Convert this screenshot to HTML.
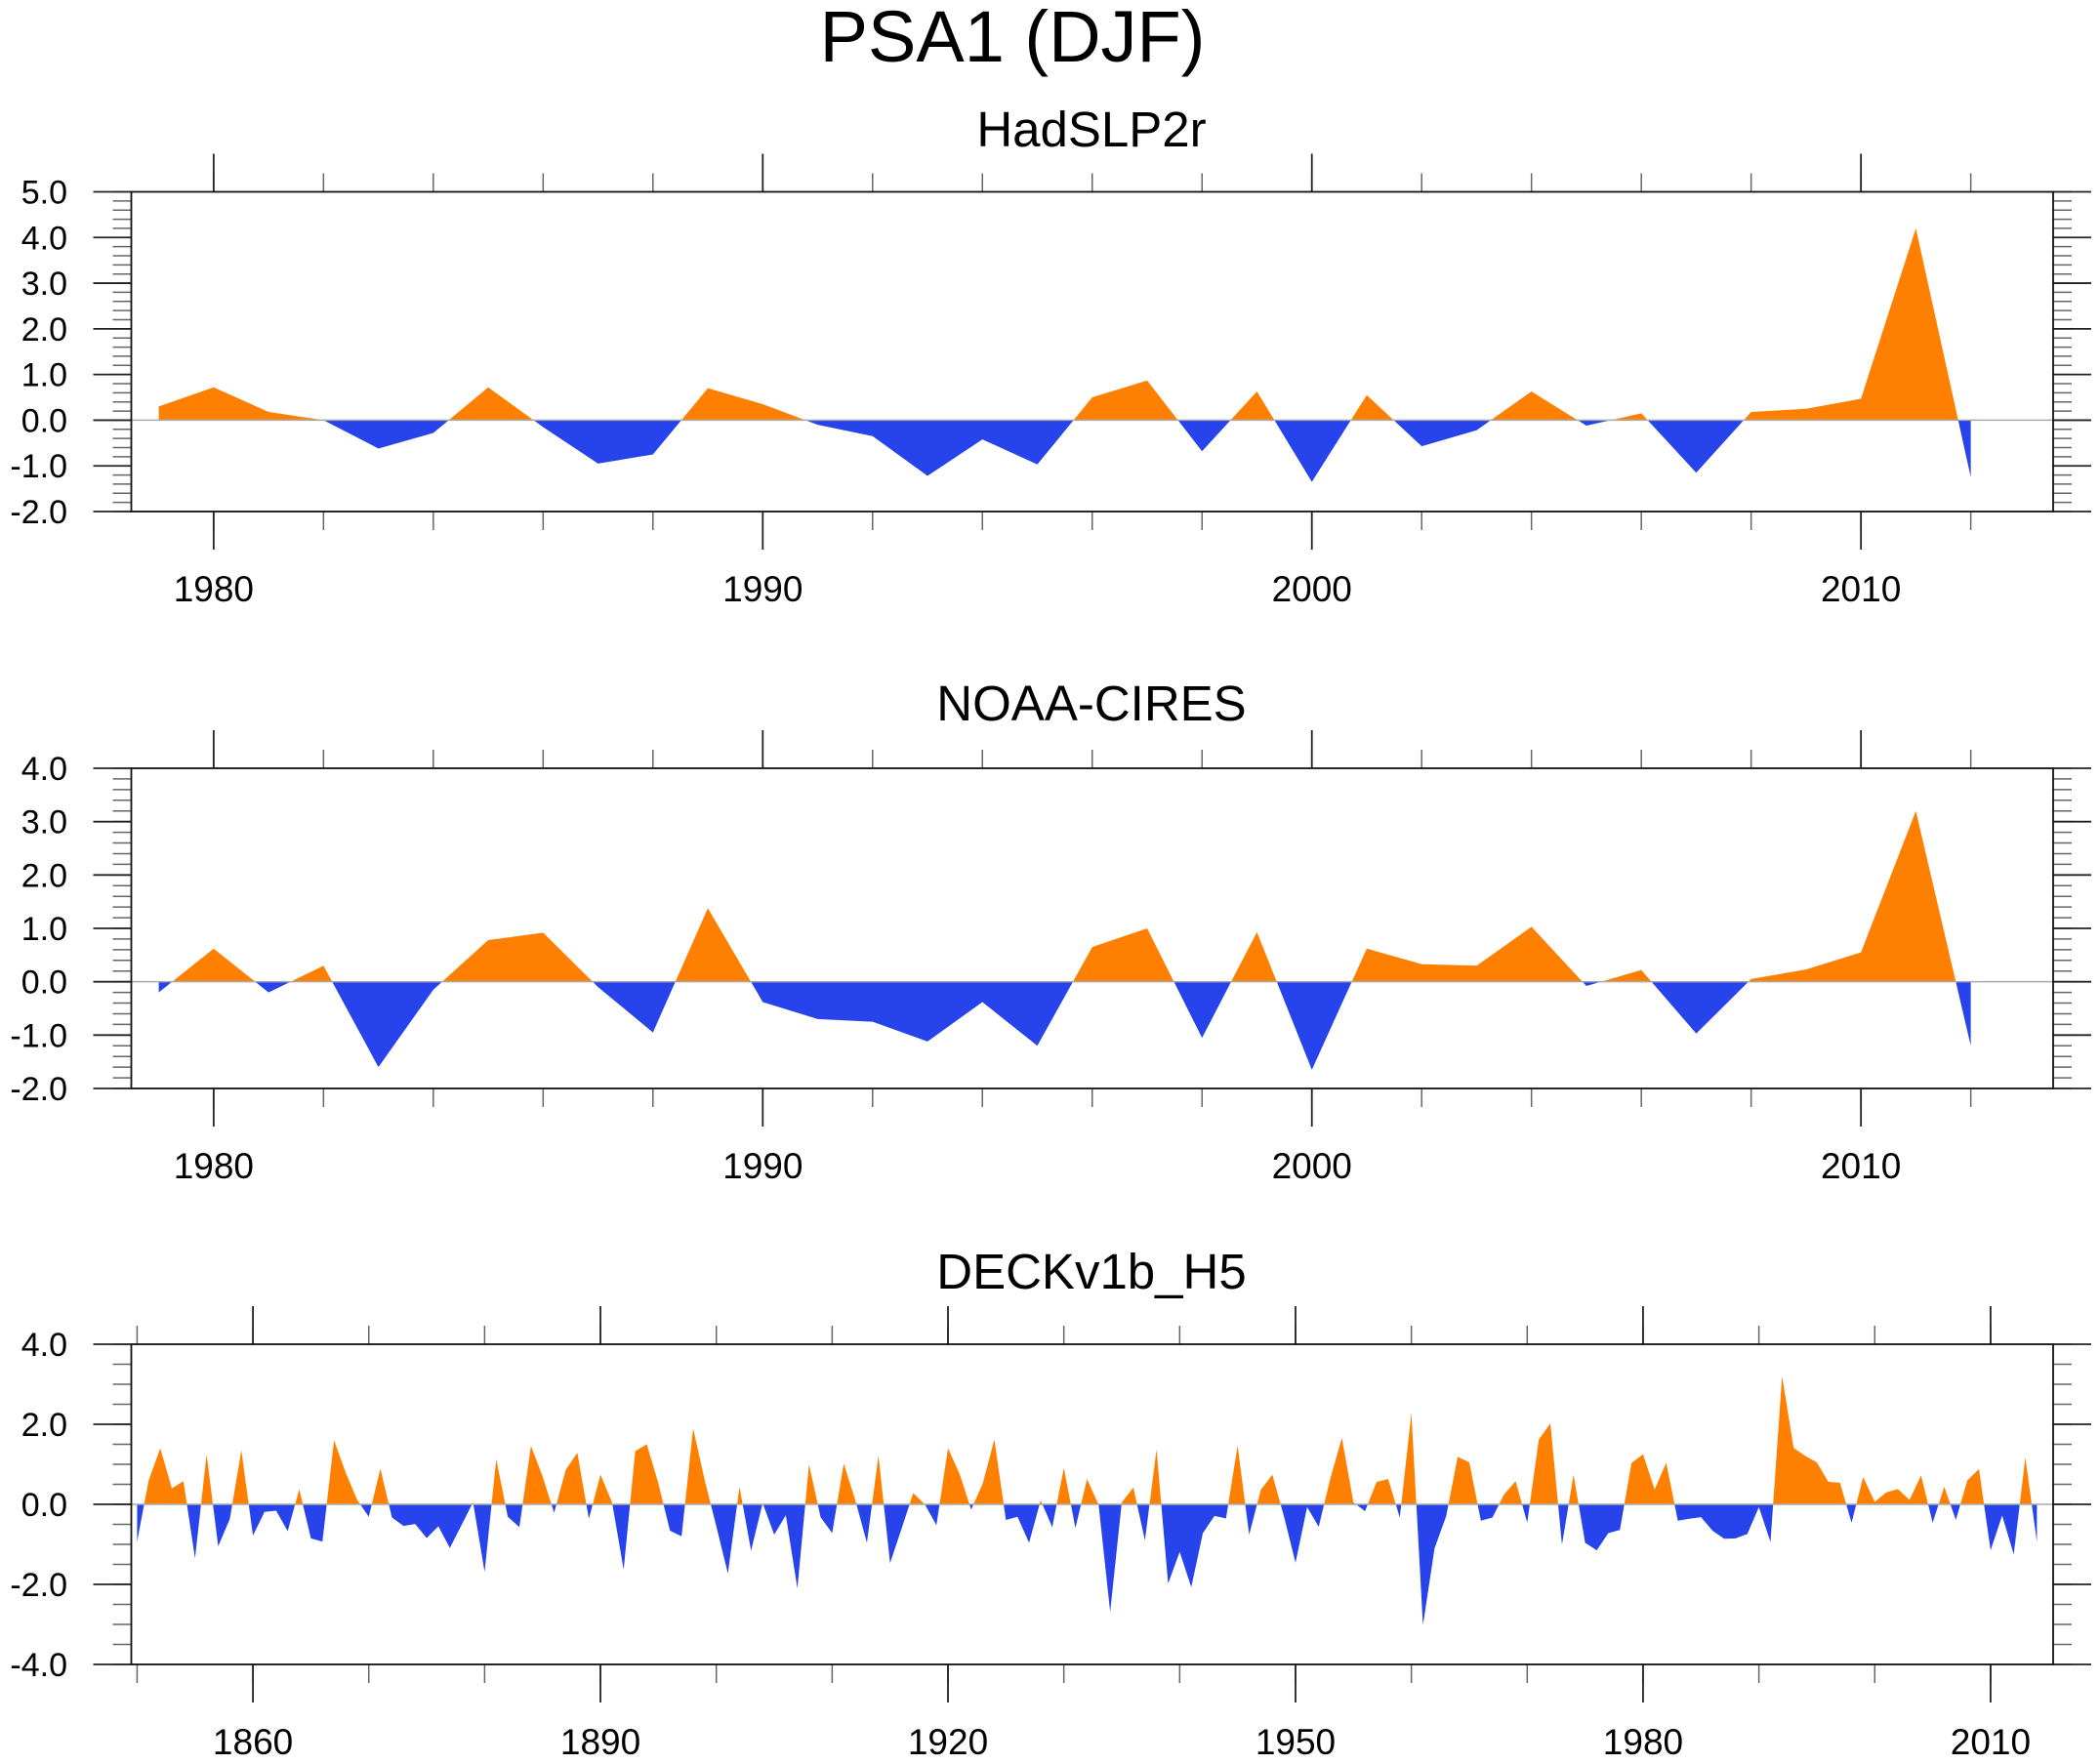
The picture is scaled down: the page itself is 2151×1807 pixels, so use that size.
<!DOCTYPE html>
<html><head><meta charset="utf-8"><style>
html,body{margin:0;padding:0;background:#fff;}
svg{display:block;font-family:"Liberation Sans",Arial,sans-serif;}
</style></head><body>
<svg id="chart" width="2151" height="1807" viewBox="0 0 2151 1807" xmlns="http://www.w3.org/2000/svg">
<text x="1037" y="63" font-size="74" text-anchor="middle">PSA1 (DJF)</text>
</svg>
<script>
// ---------- data ----------
const hadYears = [1979,1980,1981,1982,1983,1984,1985,1986,1987,1988,1989,1990,1991,1992,1993,1994,1995,1996,1997,1998,1999,2000,2001,2002,2003,2004,2005,2006,2007,2008,2009,2010,2011,2012];
const hadValues = [0.3,0.72,0.18,0.0,-0.62,-0.28,0.72,-0.15,-0.95,-0.75,0.7,0.35,-0.1,-0.35,-1.22,-0.42,-0.97,0.5,0.87,-0.68,0.63,-1.35,0.55,-0.57,-0.22,0.63,-0.12,0.15,-1.15,0.18,0.25,0.47,4.2,-1.25];
const noaaYears = hadYears;
const noaaValues = [-0.2,0.62,-0.2,0.3,-1.6,-0.15,0.78,0.92,-0.1,-0.95,1.38,-0.38,-0.7,-0.75,-1.12,-0.38,-1.2,0.65,1.0,-1.05,0.93,-1.65,0.62,0.33,0.3,1.03,-0.08,0.22,-0.97,0.05,0.23,0.55,3.2,-1.2];
const deckStartYear = 1850;
const deckValues = [-0.93,0.6,1.4,0.4,0.58,-1.35,1.25,-1.05,-0.37,1.35,
-0.78,-0.19,-0.16,-0.67,0.38,-0.85,-0.93,1.6,0.8,0.11,
-0.31,0.89,-0.33,-0.54,-0.49,-0.84,-0.55,-1.09,-0.52,0.05,
-1.69,1.13,-0.31,-0.57,1.46,0.7,-0.21,0.86,1.29,-0.36,
0.74,0.05,-1.63,1.33,1.5,0.52,-0.66,-0.8,1.9,0.6,
-0.55,-1.73,0.44,-1.16,0.03,-0.76,-0.27,-2.1,1.0,-0.32,
-0.72,1.02,0.1,-0.96,1.22,-1.47,-0.6,0.28,0.0,-0.52,
1.4,0.76,-0.13,0.52,1.62,-0.39,-0.31,-0.96,0.1,-0.57,
0.91,-0.59,0.63,-0.01,-2.69,0.05,0.42,-0.9,1.37,-1.98,
-1.19,-2.07,-0.72,-0.29,-0.35,1.47,-0.76,0.36,0.74,-0.3,
-1.46,-0.07,-0.56,0.64,1.66,0.05,-0.17,0.56,0.63,-0.33,
2.28,-3.02,-1.1,-0.3,1.19,1.05,-0.41,-0.33,0.25,0.58,
-0.46,1.62,2.02,-1.01,0.74,-0.96,-1.15,-0.72,-0.64,1.03,
1.25,0.37,1.04,-0.41,-0.36,-0.32,-0.66,-0.86,-0.85,-0.74,
-0.07,-0.94,3.2,1.41,1.21,1.05,0.56,0.54,-0.46,0.68,
0.06,0.3,0.38,0.11,0.72,-0.46,0.44,-0.39,0.6,0.88,
-1.15,-0.28,-1.25,1.17,-0.94];
const deckYears = deckValues.map((v,i)=>deckStartYear+i);
const yTicks1 = ["-2.0","-1.0","0.0","1.0","2.0","3.0","4.0","5.0"];
const yTicks2 = ["-2.0","-1.0","0.0","1.0","2.0","3.0","4.0"];
const yTicks3 = ["-4.0","-2.0","0.0","2.0","4.0"];
const xTicks12 = ["1980","1990","2000","2010"];
const xTicks3 = ["1860","1890","1920","1950","1980","2010"];

const NS="http://www.w3.org/2000/svg";
const svg=document.getElementById('chart');
function mk(tag,attrs,parent){const e=document.createElementNS(NS,tag);for(const k in attrs)e.setAttribute(k,attrs[k]);(parent||svg).appendChild(e);return e;}

function panel(cfg){
  const g=mk('g',{});
  
  
  const L=134.5,R=2103,T=cfg.top,B=cfg.bottom;
  const xs=v=>L+(v-cfg.x0)/(cfg.x1-cfg.x0)*(R-L);
  const ys=v=>B-(v-cfg.y0)/(cfg.y1-cfg.y0)*(B-T);
  const t=mk('text',{x:1118,y:cfg.titleY,'font-size':51,'text-anchor':'middle'},g);
  t.textContent=cfg.title;
  
  
  const id=cfg.name;
  const defs=mk('defs',{},g);
  const cpU=mk('clipPath',{id:id+'-up'},defs);mk('rect',{x:L,y:T,width:R-L,height:ys(0)-T},cpU);
  const cpD=mk('clipPath',{id:id+'-dn'},defs);mk('rect',{x:L,y:ys(0),width:R-L,height:B-ys(0)},cpD);
  let d='M'+xs(cfg.years[0])+','+ys(0);
  cfg.values.forEach((v,i)=>{d+=' L'+xs(cfg.years[i]).toFixed(2)+','+ys(v).toFixed(2);});
  d+=' L'+xs(cfg.years[cfg.years.length-1])+','+ys(0)+' Z';
  const up=mk('path',{d:d,fill:'#FF8000','clip-path':'url(#'+id+'-up)'},g);
  
  
  const dn=mk('path',{d:d,fill:'#2743EB','clip-path':'url(#'+id+'-dn)'},g);
  
  
  mk('line',{x1:L,x2:R,y1:ys(0),y2:ys(0),stroke:'#aaa','stroke-width':1.5},g);
  for(let v=cfg.y0;v<=cfg.y1+1e-6;v+=cfg.yMinor){
    const y=ys(v);
    mk('line',{x1:L-19,x2:L,y1:y,y2:y,stroke:'#666','stroke-width':1.5},g);
    mk('line',{x1:R,x2:R+19,y1:y,y2:y,stroke:'#666','stroke-width':1.5},g);
  }
  cfg.yLabels.forEach(s=>{
    const v=parseFloat(s),y=ys(v);
    mk('line',{x1:L-39,x2:L,y1:y,y2:y,stroke:'#222','stroke-width':1.8},g);
    mk('line',{x1:R,x2:R+39,y1:y,y2:y,stroke:'#222','stroke-width':1.8},g);
    const tx=mk('text',{x:69,y:y+12,'font-size':34,'text-anchor':'end'},g);
    tx.textContent=s;
    
    
  });
  for(let v=Math.ceil(cfg.x0/cfg.xMinor)*cfg.xMinor;v<=cfg.x1;v+=cfg.xMinor){
    const x=xs(v);
    mk('line',{x1:x,x2:x,y1:T-19,y2:T,stroke:'#666','stroke-width':1.5},g);
    mk('line',{x1:x,x2:x,y1:B,y2:B+19,stroke:'#666','stroke-width':1.5},g);
  }
  cfg.xLabels.forEach(s=>{
    const x=xs(parseFloat(s));
    mk('line',{x1:x,x2:x,y1:T-39,y2:T,stroke:'#222','stroke-width':1.8},g);
    mk('line',{x1:x,x2:x,y1:B,y2:B+39,stroke:'#222','stroke-width':1.8},g);
    const tx=mk('text',{x:x,y:B+92,'font-size':37,'text-anchor':'middle'},g);
    tx.textContent=s;
    
    
  });
  const box=mk('rect',{x:L,y:T,width:R-L,height:B-T,fill:'none',stroke:'#111','stroke-width':1.8},g);
  
  
}

panel({name:'hadslp2r',title:'HadSLP2r',titleY:150,top:196.5,bottom:524,x0:1978.5,x1:2013.5,y0:-2,y1:5,yMinor:0.2,
  years:hadYears,values:hadValues,yLabels:yTicks1,xLabels:xTicks12,xMinor:2});
panel({name:'noaa-cires',title:'NOAA-CIRES',titleY:738,top:787,bottom:1115,x0:1978.5,x1:2013.5,y0:-2,y1:4,yMinor:0.2,
  years:noaaYears,values:noaaValues,yLabels:yTicks2,xLabels:xTicks12,xMinor:2});
panel({name:'deckv1b-h5',title:'DECKv1b_H5',titleY:1320,top:1377,bottom:1705,x0:1849.5,x1:2015.4,y0:-4,y1:4,yMinor:0.5,
  years:deckYears,values:deckValues,yLabels:yTicks3,xLabels:xTicks3,xMinor:10});
</script>
</body></html>
